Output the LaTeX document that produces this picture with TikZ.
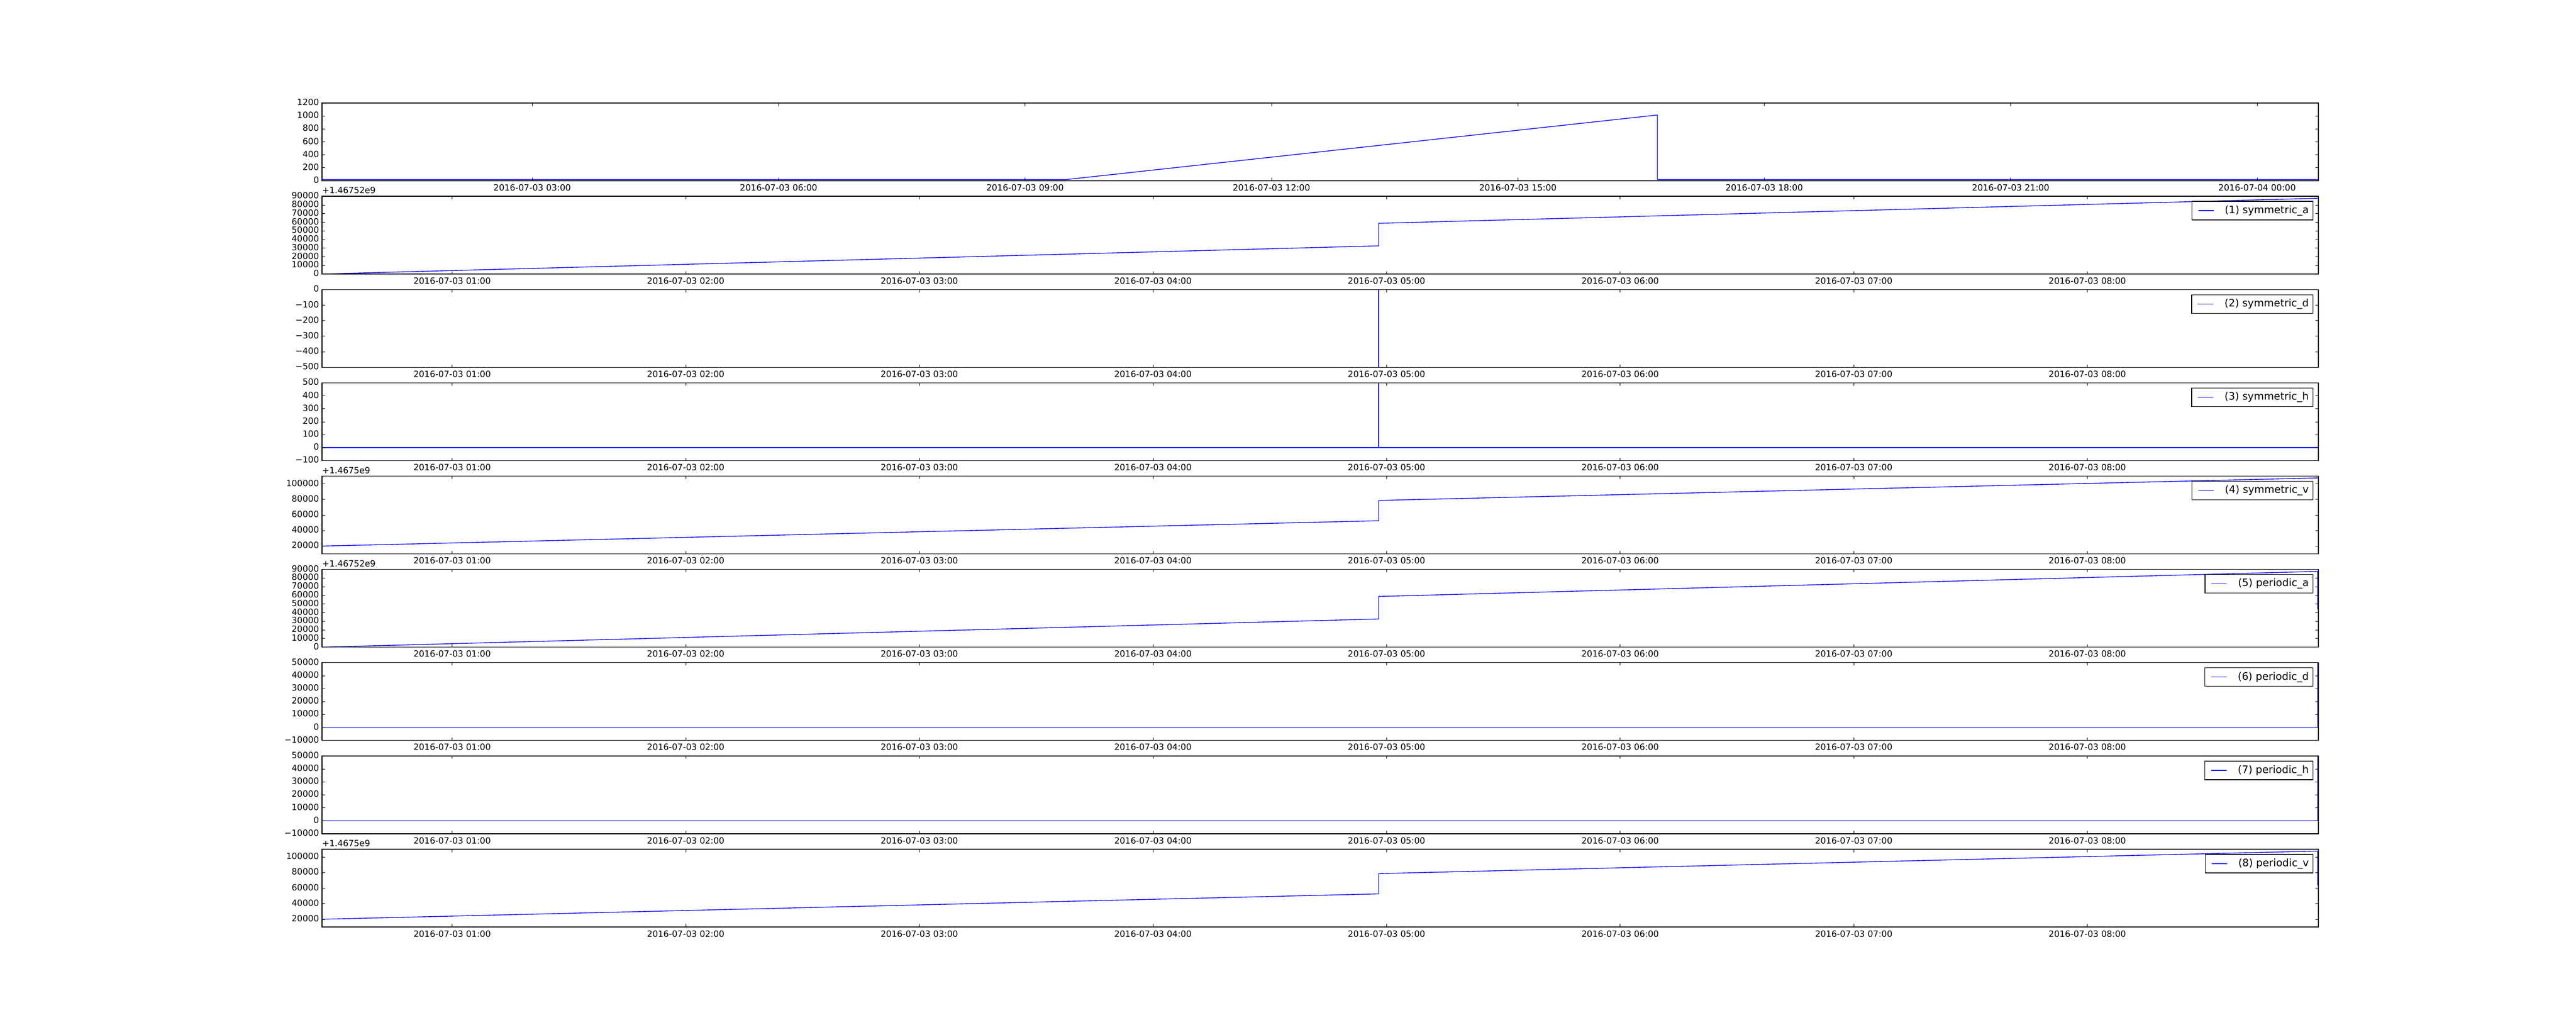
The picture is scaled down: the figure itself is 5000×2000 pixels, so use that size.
\documentclass[tikz,border=0pt]{standalone}
\usepackage{fontspec}
\setmainfont{DejaVu Sans}
\usetikzlibrary{calc}

\tikzset{
  axesframe/.style={draw=black, line width=1pt},
  majortick/.style={draw=black, line width=0.5pt},
  dataline/.style={draw=blue, line width=1pt, line join=round},
  ticklabel/.style={inner sep=0pt, font=\fontsize{12}{14}\selectfont},
  xticklabel/.style={ticklabel, anchor=north},
  yticklabel/.style={ticklabel, anchor=east},
  offsetlabel/.style={ticklabel, anchor=south west},
  legendframe/.style={draw=black, fill=white, line width=1pt, anchor=east, inner sep=0pt,
    minimum height=25.92pt, font=\fontsize{14.4}{17}\selectfont},
}

\begin{document}
\begin{tikzpicture}[x=0.72pt,y=0.72pt,yscale=-1,xscale=1]
  \useasboundingbox[fill=white] (0,0) rectangle (5000,2000);

  % curves
  \draw[dataline] (625,348.6) -- (2070,348.6) -- (3217,223.3) -- (3217,348.6) -- (4500,348.6);
  \draw[dataline] (625,532.07) -- (2676,477.38) -- (2676,433.61) -- (4500,384.97);
  \draw[dataline] (625,562.26) -- (2676,562.26) -- (2676,713.2) -- (2676,562.26) -- (4500,562.26);
  \draw[dataline] (625,869.17) -- (2676,869.17) -- (2676,743.39) -- (2676,869.17) -- (4500,869.17);
  \draw[dataline] (625,1060.37) -- (2676,1011.14) -- (2676,971.75) -- (4500,927.97);
  \draw[dataline] (625,1256.59) -- (2676,1201.9) -- (2676,1158.13) -- (4498.5,1109.49) -- (4498.5,1183.47);
  \draw[dataline] (625,1412.56) -- (4498.5,1412.56) -- (4498.5,1286.78);
  \draw[dataline] (625,1593.69) -- (4498.5,1593.69) -- (4498.5,1467.91);
  \draw[dataline] (625,1784.89) -- (2676,1735.66) -- (2676,1696.27) -- (4498.5,1652.49) -- (4498.5,1719.08);

  % axes boxes
  \foreach \k in {0,...,8} {
    \pgfmathsetmacro{\ptop}{200+181.13*\k}
    \pgfmathsetmacro{\pbot}{\ptop+150.94}
    \draw[axesframe] (625,\ptop) rectangle (4500,\pbot);
  }

  % time axis, whole day
  \foreach \lab [count=\j from 0] in {2016-07-03 03:00, 2016-07-03 06:00, 2016-07-03 09:00, 2016-07-03 12:00,
      2016-07-03 15:00, 2016-07-03 18:00, 2016-07-03 21:00, 2016-07-04 00:00} {
    \pgfmathsetmacro{\tx}{1033+478.29*\j}
    \draw[majortick] (\tx,350.94) -- ++(0,-5.56) (\tx,200) -- ++(0,5.56);
    \node[xticklabel] (xlab0-\j) at (\tx,357.44) {\lab};
  }

  % time axis, first hours
  \foreach \k in {1,...,8} {
    \pgfmathsetmacro{\ptop}{200+181.13*\k}
    \pgfmathsetmacro{\pbot}{\ptop+150.94}
    \foreach \lab [count=\j from 0] in {01:00,02:00,03:00,04:00,05:00,06:00,07:00,08:00} {
      \pgfmathsetmacro{\tx}{877.6+453.41*\j}
      \draw[majortick] (\tx,\pbot) -- ++(0,-5.56) (\tx,\ptop) -- ++(0,5.56);
      \node[xticklabel] (xlab\k-\j) at (\tx,{\pbot+6.5}) {2016-07-03 \lab};
    }
  }

  % value axes
  \foreach \lab [count=\i from 0] in {0,200,400,600,800,1000,1200} {
    \pgfmathsetmacro{\ty}{350.94-25.157*\i}
    \draw[majortick] (625,\ty) -- ++(5.56,0) (4500,\ty) -- ++(-5.56,0);
    \node[yticklabel] (ylab0-\i) at (619.4,{\ty-1.5}) {\lab};
  }
  \foreach \lab [count=\i from 0] in {0,10000,20000,30000,40000,50000,60000,70000,80000,90000} {
    \pgfmathsetmacro{\ty}{532.07-16.771*\i}
    \draw[majortick] (625,\ty) -- ++(5.56,0) (4500,\ty) -- ++(-5.56,0);
    \node[yticklabel] (ylab1-\i) at (619.4,{\ty-1.5}) {\lab};
  }
  \foreach \lab [count=\i from 0] in {−500,−400,−300,−200,−100,0} {
    \pgfmathsetmacro{\ty}{713.2-30.188*\i}
    \draw[majortick] (625,\ty) -- ++(5.56,0) (4500,\ty) -- ++(-5.56,0);
    \node[yticklabel] (ylab2-\i) at (619.4,{\ty-1.5}) {\lab};
  }
  \foreach \lab [count=\i from 0] in {−100,0,100,200,300,400,500} {
    \pgfmathsetmacro{\ty}{894.33-25.157*\i}
    \draw[majortick] (625,\ty) -- ++(5.56,0) (4500,\ty) -- ++(-5.56,0);
    \node[yticklabel] (ylab3-\i) at (619.4,{\ty-1.5}) {\lab};
  }
  \foreach \lab [count=\i from 0] in {20000,40000,60000,80000,100000} {
    \pgfmathsetmacro{\ty}{1060.37-30.188*\i}
    \draw[majortick] (625,\ty) -- ++(5.56,0) (4500,\ty) -- ++(-5.56,0);
    \node[yticklabel] (ylab4-\i) at (619.4,{\ty-1.5}) {\lab};
  }
  \foreach \lab [count=\i from 0] in {0,10000,20000,30000,40000,50000,60000,70000,80000,90000} {
    \pgfmathsetmacro{\ty}{1256.59-16.771*\i}
    \draw[majortick] (625,\ty) -- ++(5.56,0) (4500,\ty) -- ++(-5.56,0);
    \node[yticklabel] (ylab5-\i) at (619.4,{\ty-1.5}) {\lab};
  }
  \foreach \lab [count=\i from 0] in {−10000,0,10000,20000,30000,40000,50000} {
    \pgfmathsetmacro{\ty}{1437.72-25.157*\i}
    \draw[majortick] (625,\ty) -- ++(5.56,0) (4500,\ty) -- ++(-5.56,0);
    \node[yticklabel] (ylab6-\i) at (619.4,{\ty-1.5}) {\lab};
  }
  \foreach \lab [count=\i from 0] in {−10000,0,10000,20000,30000,40000,50000} {
    \pgfmathsetmacro{\ty}{1618.85-25.157*\i}
    \draw[majortick] (625,\ty) -- ++(5.56,0) (4500,\ty) -- ++(-5.56,0);
    \node[yticklabel] (ylab7-\i) at (619.4,{\ty-1.5}) {\lab};
  }
  \foreach \lab [count=\i from 0] in {20000,40000,60000,80000,100000} {
    \pgfmathsetmacro{\ty}{1784.89-30.188*\i}
    \draw[majortick] (625,\ty) -- ++(5.56,0) (4500,\ty) -- ++(-5.56,0);
    \node[yticklabel] (ylab8-\i) at (619.4,{\ty-1.5}) {\lab};
  }

  % offsets
  \node[offsetlabel] (off1) at (625,376.5) {+1.46752e9};
  \node[offsetlabel] (off4) at (625,919.9) {+1.4675e9};
  \node[offsetlabel] (off5) at (625,1101) {+1.46752e9};
  \node[offsetlabel] (off8) at (625,1644.4) {+1.4675e9};

  % legends
  \foreach \k/\name in {1/symmetric\_a, 2/symmetric\_d, 3/symmetric\_h, 4/symmetric\_v,
      5/periodic\_a, 6/periodic\_d, 7/periodic\_h, 8/periodic\_v} {
    \pgfmathsetmacro{\ly}{228+181.13*\k}
    \node[legendframe] (leg\k) at (4490,\ly) {\kern46.08pt(\k) \name\kern5.76pt};
    \draw[dataline] ($(leg\k.west)+(13,0)$) -- ++(30,0);
  }
\end{tikzpicture}
\end{document}
